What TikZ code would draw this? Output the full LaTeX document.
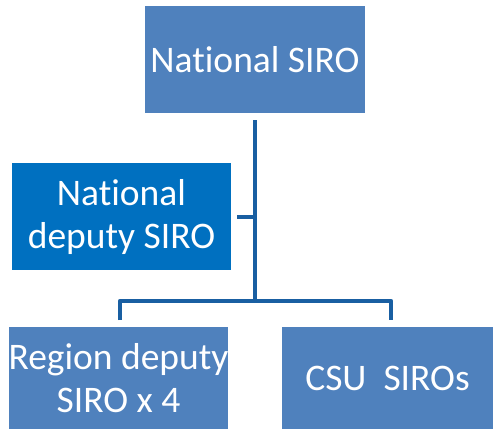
\documentclass[tikz,border=0pt]{standalone}
\usepackage{fontspec}
\setmainfont{Carlito}[Ligatures={NoCommon}]
\definecolor{boxblue}{RGB}{79,129,189}
\definecolor{deepblue}{RGB}{0,112,192}
\definecolor{linkblue}{RGB}{25,95,162}
\begin{document}
\begin{tikzpicture}[x=1pt,y=-1pt,
  orgbox/.style={rectangle, fill=boxblue, text=white, align=center, inner sep=0pt,
    font=\fontsize{37.5}{43}\selectfont},
  link/.style={draw=linkblue, line width=4.5pt}]
\useasboundingbox (0,0) rectangle (493,429);
\fill[white] (0,0) rectangle (493,429);
\node[orgbox, minimum width=220pt, minimum height=107pt] (top) at (255,59.5) {National SIRO};
\node[orgbox, fill=deepblue, minimum width=219pt, minimum height=107pt] (mid) at (121.5,216.5) {National\\deputy SIRO};
\node[orgbox, minimum width=219pt, minimum height=102pt] (bl) at (118.5,378) {Region deputy\\SIRO x 4};
\node[orgbox, minimum width=211pt, minimum height=102pt] (br) at (387.5,378) {CSU\ \ SIROs};
\coordinate (t0) at (255,120);
\coordinate (j) at (255,301);
\coordinate (m0) at (237,217);
\coordinate (mj) at (255,217);
\coordinate (c1) at (120,320);
\coordinate (c2) at (391,320);
\draw[link] (t0) -- (j);
\draw[link] (m0) -- (mj);
\draw[link, line join=round] (c1) |- (j) -| (c2);
\end{tikzpicture}
\end{document}
